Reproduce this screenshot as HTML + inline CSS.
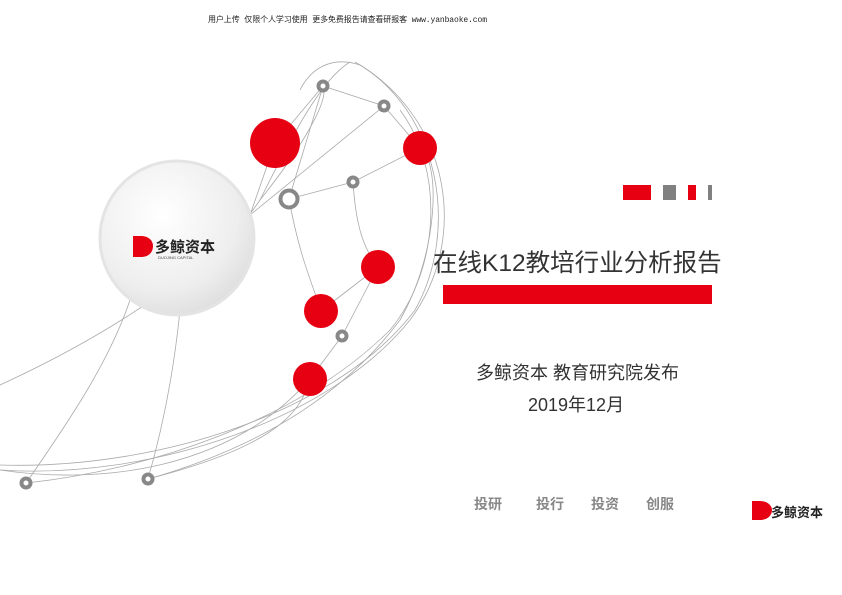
<!DOCTYPE html>
<html><head><meta charset="utf-8"><style>
body{margin:0;width:842px;height:595px;background:#fff;position:relative;overflow:hidden;font-family:"Liberation Sans","Noto Sans CJK SC",sans-serif}
.a{position:absolute}
.b{position:absolute;top:494px;font-size:14px;font-weight:bold;color:#888}
</style></head><body>
<svg class="a" style="left:0;top:0" width="842" height="595">
<defs><radialGradient id="g" cx="0.4" cy="0.35" r="0.7"><stop offset="0" stop-color="#fff"/><stop offset="0.7" stop-color="#eee"/><stop offset="1" stop-color="#ddd"/></radialGradient></defs>
<g fill="none" stroke="#aaa" stroke-width="0.8">
<path d="M0,470 C150,480 330,420 410,320 C470,240 450,120 360,65 C330,55 310,70 300,90"/>
<path d="M0,465 C160,470 340,410 415,310 C460,230 440,110 355,62"/>
<path d="M0,385 C120,330 220,260 260,200 C290,140 320,80 350,62"/>
<path d="M26,483 C150,470 300,420 390,330 C440,270 445,170 400,110"/>
<path d="M148,479 C250,450 340,400 400,320 C440,250 440,160 420,148"/>
<path d="M26,483 C70,420 110,360 130,300"/>
<path d="M148,479 C165,420 175,360 180,310"/>
<path d="M289,199 L353,182 L420,148"/>
<path d="M289,199 L323,86 L384,106 L420,148"/>
<path d="M250,215 L275,143 L323,86"/>
<path d="M289,199 C300,260 315,290 321,311"/>
<path d="M353,182 C356,230 365,250 378,267"/>
<path d="M321,311 L378,267"/>
<path d="M310,379 L342,336 L378,267"/>
<path d="M310,379 C300,420 260,450 148,479"/>
<path d="M250,215 L384,106"/>
<path d="M260,200 C300,150 330,100 323,86"/>
<path d="M0,470 C100,485 230,470 310,379"/>
</g>
<circle cx="177" cy="238" r="77" fill="url(#g)" stroke="#e4e4e4" stroke-width="3"/>
<g fill="#e60012"><circle cx="275" cy="143" r="25"/><circle cx="420" cy="148" r="17"/><circle cx="378" cy="267" r="17"/><circle cx="321" cy="311" r="17"/><circle cx="310" cy="379" r="17"/></g>
<g fill="#fff" stroke="#888" stroke-width="4"><circle cx="323" cy="86" r="4.5"/><circle cx="384" cy="106" r="4.5"/><circle cx="353" cy="182" r="4.5"/><circle cx="342" cy="336" r="4.5"/><circle cx="26" cy="483" r="4.5"/><circle cx="148" cy="479" r="4.5"/><circle cx="289" cy="199" r="8.5" stroke-width="4"/></g>
<rect x="623" y="185" width="28" height="15" fill="#e60012"/><rect x="663" y="185" width="13" height="15" fill="#808080"/><rect x="688" y="185" width="8" height="15" fill="#e60012"/><rect x="708" y="185" width="4" height="15" fill="#808080"/>
<rect x="443" y="285" width="269" height="19" fill="#e60012"/>
<path d="M133,236 h8 c8,0 12,5 12,10 c0,6 -4,11 -12,11 h-8z" fill="#e60012"/>
<path d="M752,501 h8 c8,0 12,5 12,9 c0,5 -4,10 -12,10 h-8z" fill="#e60012"/>
</svg>
<div class="a" style="left:155px;top:236px;font-size:15px;font-weight:bold;color:#222">多鲸资本</div>
<div class="a" style="left:158px;top:255px;font-size:4px;color:#444">DUOJING CAPITAL</div>
<div class="a" style="left:771px;top:502px;font-size:13px;font-weight:bold;color:#222">多鲸资本</div>
<div class="a" style="left:208px;top:14px;font-size:8px;color:#222;letter-spacing:-0.1px;font-family:'Liberation Mono','Noto Sans CJK SC',monospace">用户上传 仅限个人学习使用 更多免费报告请查看研报客 www.yanbaoke.com</div>
<div class="a" style="left:433px;top:244px;font-size:24.5px;color:#333">在线K12教培行业分析报告</div>
<div class="a" style="left:476px;top:359px;font-size:18px;color:#333">多鲸资本 教育研究院发布</div>
<div class="a" style="left:528px;top:391px;font-size:18px;color:#333">2019年12月</div>
<div class="b" style="left:474px">投研</div>
<div class="b" style="left:536px">投行</div>
<div class="b" style="left:591px">投资</div>
<div class="b" style="left:646px">创服</div>
</body></html>
